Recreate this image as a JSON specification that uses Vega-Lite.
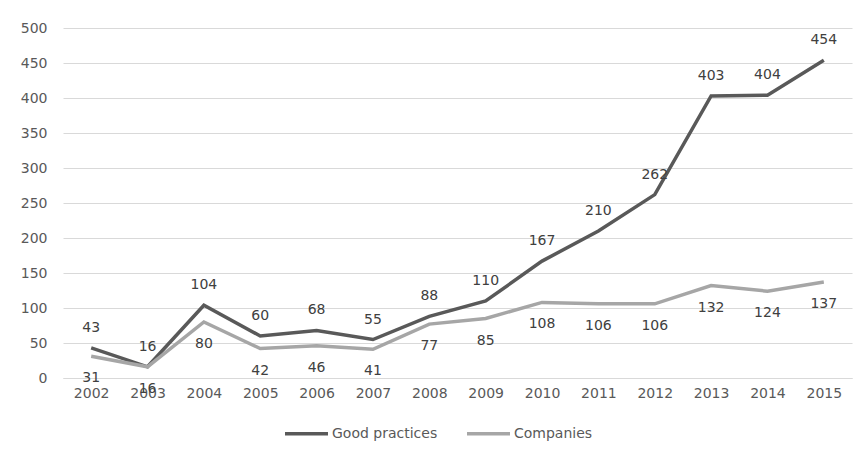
{
  "$schema": "https://vega.github.io/schema/vega-lite/v6.json",
  "autosize": {"type": "none"},
  "padding": {"left": 63, "top": 28, "right": 12, "bottom": 74},
  "width": 789,
  "height": 350,
  "background": "white",
  "config": {
    "view": {"stroke": null},
    "font": "DejaVu Sans",
    "axis": {"labelFont": "DejaVu Sans", "labelFontSize": 14, "labelColor": "#595959", "gridColor": "#d9d9d9", "domainColor": "#d9d9d9", "ticks": false, "title": null}
  },
  "data": {
    "values": [
      {"year": "2002", "series": "Good practices", "value": 43},
      {"year": "2003", "series": "Good practices", "value": 16},
      {"year": "2004", "series": "Good practices", "value": 104},
      {"year": "2005", "series": "Good practices", "value": 60},
      {"year": "2006", "series": "Good practices", "value": 68},
      {"year": "2007", "series": "Good practices", "value": 55},
      {"year": "2008", "series": "Good practices", "value": 88},
      {"year": "2009", "series": "Good practices", "value": 110},
      {"year": "2010", "series": "Good practices", "value": 167},
      {"year": "2011", "series": "Good practices", "value": 210},
      {"year": "2012", "series": "Good practices", "value": 262},
      {"year": "2013", "series": "Good practices", "value": 403},
      {"year": "2014", "series": "Good practices", "value": 404},
      {"year": "2015", "series": "Good practices", "value": 454},
      {"year": "2002", "series": "Companies", "value": 31},
      {"year": "2003", "series": "Companies", "value": 16},
      {"year": "2004", "series": "Companies", "value": 80},
      {"year": "2005", "series": "Companies", "value": 42},
      {"year": "2006", "series": "Companies", "value": 46},
      {"year": "2007", "series": "Companies", "value": 41},
      {"year": "2008", "series": "Companies", "value": 77},
      {"year": "2009", "series": "Companies", "value": 85},
      {"year": "2010", "series": "Companies", "value": 108},
      {"year": "2011", "series": "Companies", "value": 106},
      {"year": "2012", "series": "Companies", "value": 106},
      {"year": "2013", "series": "Companies", "value": 132},
      {"year": "2014", "series": "Companies", "value": 124},
      {"year": "2015", "series": "Companies", "value": 137}
    ]
  },
  "encoding": {
    "x": {"field": "year", "type": "ordinal", "scale": {"type": "point", "padding": 0.5},
          "axis": {"labelAngle": 0, "grid": false, "labelPadding": 8, "domain": true}},
    "y": {"field": "value", "type": "quantitative", "scale": {"domain": [0, 500]},
          "axis": {"values": [0, 50, 100, 150, 200, 250, 300, 350, 400, 450, 500], "domain": false, "labelPadding": 16}}
  },
  "layer": [
    {
      "mark": {"type": "line", "strokeWidth": 3.5, "strokeJoin": "miter"},
      "encoding": {
        "color": {"field": "series", "type": "nominal",
          "scale": {"domain": ["Good practices", "Companies"], "range": ["#595959", "#a6a6a6"]},
          "sort": ["Good practices", "Companies"],
          "legend": {"orient": "none", "legendX": 220, "legendY": 382, "direction": "horizontal", "title": null, "symbolType": "stroke", "symbolSize": 1849, "symbolStrokeWidth": 3.5, "labelFontSize": 14, "labelColor": "#595959", "labelFont": "DejaVu Sans", "columnPadding": 22, "symbolOffset": 0, "labelOffset": 2}
        }
      }
    },
    {
      "transform": [{"filter": "datum.series === 'Good practices'"}],
      "mark": {"type": "text", "dy": -20, "fontSize": 14, "color": "#404040"},
      "encoding": {"text": {"field": "value", "type": "quantitative"}}
    },
    {
      "transform": [{"filter": "datum.series === 'Companies'"}],
      "mark": {"type": "text", "dy": 22, "fontSize": 14, "color": "#404040"},
      "encoding": {"text": {"field": "value", "type": "quantitative"}}
    }
  ]
}
